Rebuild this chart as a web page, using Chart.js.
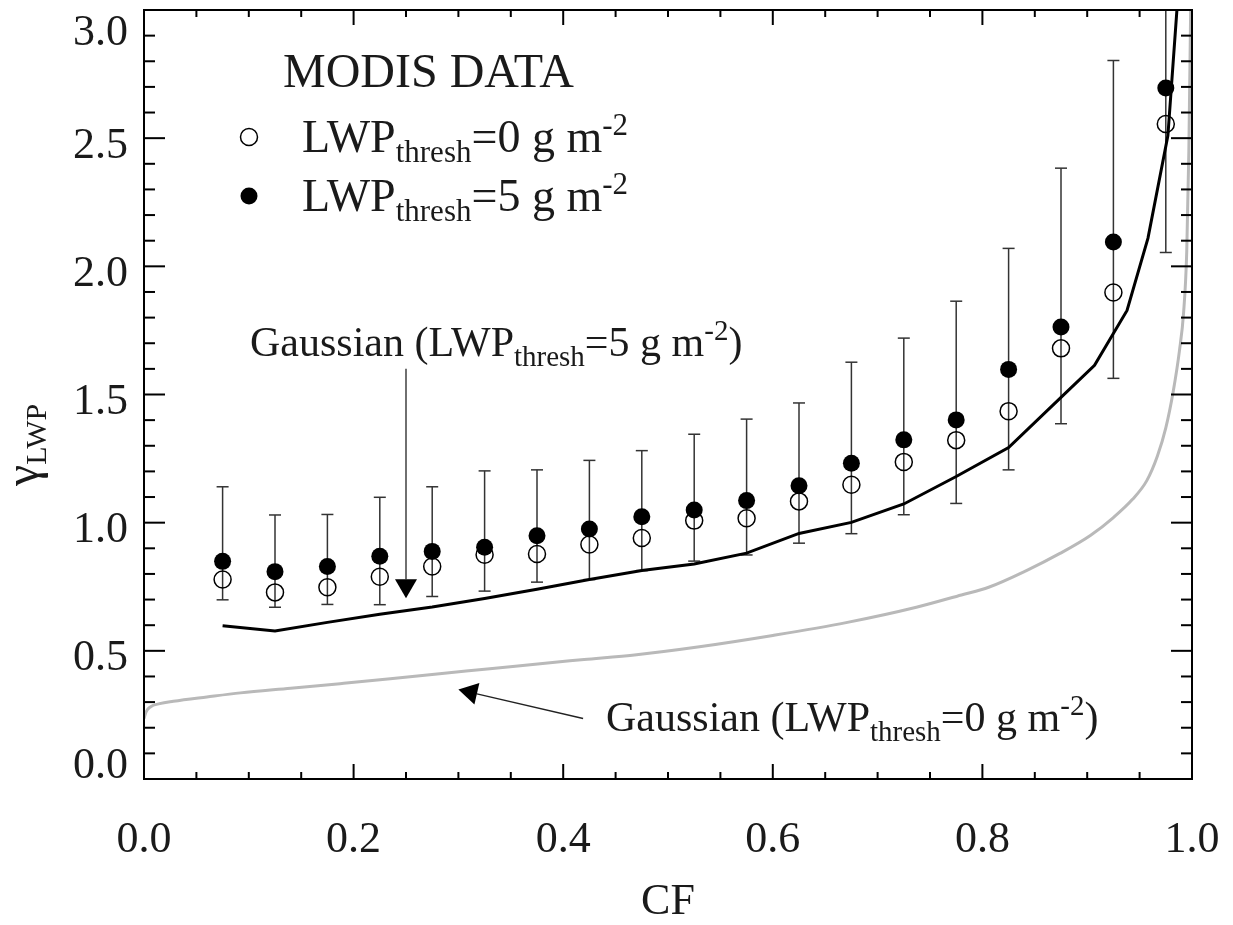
<!DOCTYPE html>
<html>
<head>
<meta charset="utf-8">
<script src="https://cdn.jsdelivr.net/npm/chart.js@4"></script>
<style>
html, body { margin: 0; padding: 0; background: #fff; }
</style>
</head>
<body>
<canvas id="myChart" width="1233" height="925"></canvas>
<script>
// MODIS bins (cloud fraction bin centres)
var cf = [0.075, 0.125, 0.175, 0.225, 0.275, 0.325, 0.375, 0.425, 0.475, 0.525,
          0.575, 0.625, 0.675, 0.725, 0.775, 0.825, 0.875, 0.925, 0.975];
var gammaThresh5 = [0.849, 0.809, 0.829, 0.869, 0.888, 0.904, 0.949, 0.975, 1.023, 1.049,
                    1.086, 1.144, 1.232, 1.323, 1.401, 1.598, 1.763, 2.095, 2.696];
var gammaThresh0 = [0.778, 0.728, 0.748, 0.789, 0.829, 0.875, 0.878, 0.915, 0.940, 1.008,
                    1.017, 1.083, 1.148, 1.237, 1.322, 1.435, 1.680, 1.898, 2.555];
var errTop = [1.140, 1.030, 1.032, 1.099, 1.140, 1.202, 1.206, 1.243, 1.281, 1.345,
              1.404, 1.467, 1.626, 1.720, 1.864, 2.070, 2.383, 2.803, 3.200];
var errBottom = [0.699, 0.670, 0.681, 0.680, 0.712, 0.733, 0.768, 0.778, 0.813, 0.850,
                 0.874, 0.920, 0.957, 1.031, 1.075, 1.206, 1.386, 1.563, 2.054];

// Gaussian model curves
var gauss5CF = [0.075, 0.125, 0.175, 0.225, 0.275, 0.325, 0.375, 0.425, 0.475, 0.525, 0.575,
                0.625, 0.675, 0.725, 0.775, 0.825, 0.875, 0.907, 0.938, 0.958, 0.977, 0.990];
var gauss5Gamma = [0.598, 0.577, 0.611, 0.643, 0.671, 0.704, 0.740, 0.778, 0.813, 0.839, 0.881,
                   0.958, 1.001, 1.073, 1.180, 1.293, 1.489, 1.614, 1.828, 2.110, 2.510, 3.250];
var gauss0CF = [0.0, 0.002, 0.006, 0.015, 0.028, 0.06, 0.092, 0.14, 0.187, 0.235, 0.282, 0.33,
                0.378, 0.42, 0.47, 0.53, 0.6, 0.67, 0.737, 0.78, 0.806, 0.842, 0.874, 0.903,
                0.925, 0.943, 0.957, 0.967, 0.975, 0.982, 0.988, 0.992, 0.995, 0.997, 0.999];
var gauss0Gamma = [0.236, 0.262, 0.281, 0.294, 0.303, 0.320, 0.336, 0.354, 0.372, 0.391, 0.411, 0.430,
                   0.450, 0.466, 0.485, 0.516, 0.560, 0.610, 0.670, 0.718, 0.748, 0.813, 0.880, 0.950,
                   1.020, 1.090, 1.165, 1.260, 1.370, 1.510, 1.670, 1.820, 2.060, 2.450, 3.100];

var xTicks = [0, 0.2, 0.4, 0.6, 0.8, 1.0];
var xTickLabels = ['0.0', '0.2', '0.4', '0.6', '0.8', '1.0'];
var yTicks = [0, 0.5, 1.0, 1.5, 2.0, 2.5, 3.0];
var yTickLabels = ['0.0', '0.5', '1.0', '1.5', '2.0', '2.5', '3.0'];
var xMinor = 0.05, yMinor = 0.1;

// arrows: [fromX, fromY, toX, toY] in data units
var arrows = [[0.25, 1.60, 0.25, 0.705], [0.419, 0.236, 0.300, 0.349]];

var SERIF = '"Liberation Serif", "Times New Roman", serif';
var INK = '#1a1a1a';

function pairs(xs, ys) {
    return xs.map(function (x, i) { return {x: x, y: ys[i]}; });
}

// draw text made of pieces [text, size, dy]
function rich(c, parts, x, y, align) {
    var w = 0;
    parts.forEach(function (p) { c.font = p[1] + 'px ' + SERIF; w += c.measureText(p[0]).width; });
    var cx = align === 'center' ? x - w / 2 : x;
    c.textAlign = 'left';
    c.textBaseline = 'alphabetic';
    parts.forEach(function (p) {
        c.font = p[1] + 'px ' + SERIF;
        c.fillText(p[0], cx, y + (p[2] || 0));
        cx += c.measureText(p[0]).width;
    });
}

function line(c, x1, y1, x2, y2) {
    c.beginPath(); c.moveTo(x1, y1); c.lineTo(x2, y2); c.stroke();
}

function arrow(c, x1, y1, x2, y2) {
    var a = Math.atan2(y2 - y1, x2 - x1), L = 19, H = 11;
    var bx = x2 - L * Math.cos(a), by = y2 - L * Math.sin(a);
    line(c, x1, y1, bx, by);
    c.beginPath();
    c.moveTo(x2, y2);
    c.lineTo(bx + H * Math.sin(a), by - H * Math.cos(a));
    c.lineTo(bx - H * Math.sin(a), by + H * Math.cos(a));
    c.closePath();
    c.fill();
}

var idlFrame = {
    id: 'idlFrame',
    beforeDatasetsDraw: function (chart) {
        var c = chart.ctx, a = chart.chartArea, xs = chart.scales.x, ys = chart.scales.y;
        c.save();
        c.beginPath(); c.rect(a.left, a.top, a.right - a.left, a.bottom - a.top); c.clip();
        c.strokeStyle = '#333';
        c.lineWidth = 1.5;
        cf.forEach(function (v, i) {
            var px = xs.getPixelForValue(v);
            var pt = ys.getPixelForValue(errTop[i]), pb = ys.getPixelForValue(errBottom[i]);
            line(c, px, pt, px, pb);
            line(c, px - 6, pt, px + 6, pt);
            line(c, px - 6, pb, px + 6, pb);
        });
        c.restore();
    },
    afterDatasetsDraw: function (chart) {
        var c = chart.ctx, a = chart.chartArea, xs = chart.scales.x, ys = chart.scales.y;
        c.save();
        c.strokeStyle = '#000';
        c.lineWidth = 2;
        c.strokeRect(a.left, a.top, a.right - a.left, a.bottom - a.top);

        // tick marks on all four sides, pointing inward
        var k, v, p, major;
        for (k = 0; k <= Math.round(1 / xMinor); k++) {
            v = k * xMinor;
            major = xTicks.some(function (t) { return Math.abs(t - v) < 1e-6; });
            p = xs.getPixelForValue(v);
            var lx = major ? 15 : 7;
            line(c, p, a.bottom, p, a.bottom - lx);
            line(c, p, a.top, p, a.top + lx);
        }
        for (k = 0; k <= Math.round(3 / yMinor); k++) {
            v = k * yMinor;
            major = yTicks.some(function (t) { return Math.abs(t - v) < 1e-6; });
            p = ys.getPixelForValue(v);
            var ly = major ? 21 : 11;
            line(c, a.left, p, a.left + ly, p);
            line(c, a.right, p, a.right - ly, p);
        }

        c.fillStyle = INK;
        // tick labels
        xTicks.forEach(function (t, i) {
            rich(c, [[xTickLabels[i], 44]], xs.getPixelForValue(t), a.bottom + 73, 'center');
        });
        yTicks.forEach(function (t, i) {
            var by = Math.min(Math.max(ys.getPixelForValue(t) + 19.5, a.top + 35), a.bottom - 1);
            c.font = '44px ' + SERIF;
            c.textAlign = 'right';
            c.fillText(yTickLabels[i], a.left - 16, by);
        });

        // axis titles
        rich(c, [['CF', 44]], (a.left + a.right) / 2, 914, 'center');
        c.save();
        c.translate(38, 486);
        c.rotate(-Math.PI / 2);
        rich(c, [['\u03b3', 48], ['LWP', 30, 8]], 0, 0, 'left');
        c.restore();

        // legend
        rich(c, [['MODIS DATA', 48]], 283, 87, 'left');
        c.strokeStyle = '#000';
        c.lineWidth = 1.5;
        c.beginPath(); c.arc(249, 137, 8.5, 0, 2 * Math.PI); c.stroke();
        c.fillStyle = '#000';
        c.beginPath(); c.arc(249, 196, 8.5, 0, 2 * Math.PI); c.fill();
        c.fillStyle = INK;
        rich(c, [['LWP', 46], ['thresh', 31, 10], ['=0 g m', 46], ['-2', 31, -17]], 302, 152, 'left');
        rich(c, [['LWP', 46], ['thresh', 31, 10], ['=5 g m', 46], ['-2', 31, -17]], 302, 211, 'left');

        // annotations
        rich(c, [['Gaussian (LWP', 42], ['thresh', 29, 10], ['=5 g m', 42], ['-2', 29, -16], [')', 42]], 250, 356, 'left');
        rich(c, [['Gaussian (LWP', 42], ['thresh', 29, 10], ['=0 g m', 42], ['-2', 29, -16], [')', 42]], 606, 731, 'left');

        c.strokeStyle = '#222';
        c.fillStyle = '#000';
        c.lineWidth = 1.3;
        arrows.forEach(function (ar) {
            arrow(c, xs.getPixelForValue(ar[0]), ys.getPixelForValue(ar[1]),
                     xs.getPixelForValue(ar[2]), ys.getPixelForValue(ar[3]));
        });
        c.restore();
    }
};

var ctx = document.getElementById('myChart').getContext('2d');
var myChart = new Chart(ctx, {
    type: 'scatter',
    data: {
        datasets: [{
            label: 'LWP thresh = 5',
            data: pairs(cf, gammaThresh5),
            pointRadius: 8.5,
            backgroundColor: '#000',
            borderColor: '#000',
            borderWidth: 0
        }, {
            label: 'LWP thresh = 0',
            data: pairs(cf, gammaThresh0),
            pointRadius: 8.5,
            backgroundColor: 'rgba(0,0,0,0)',
            borderColor: '#000',
            borderWidth: 1.5
        }, {
            type: 'line',
            label: 'Gaussian 5',
            data: pairs(gauss5CF, gauss5Gamma),
            borderColor: '#000',
            borderWidth: 3,
            pointRadius: 0,
            tension: 0,
            fill: false,
            clip: 0
        }, {
            type: 'line',
            label: 'Gaussian 0',
            data: pairs(gauss0CF, gauss0Gamma),
            borderColor: '#b9b9b9',
            borderWidth: 3,
            pointRadius: 0,
            cubicInterpolationMode: 'monotone',
            fill: false,
            clip: 0
        }]
    },
    options: {
        responsive: false,
        animation: false,
        devicePixelRatio: 1,
        events: [],
        layout: { padding: { top: 8, right: 41, left: 0, bottom: 0 } },
        plugins: {
            legend: { display: false },
            tooltip: { enabled: false }
        },
        scales: {
            x: {
                type: 'linear', min: 0, max: 1,
                grid: { display: false }, border: { display: false },
                ticks: { display: false },
                afterFit: function (s) { s.height = 146; }
            },
            y: {
                type: 'linear', min: 0, max: 3,
                grid: { display: false }, border: { display: false },
                ticks: { display: false },
                afterFit: function (s) { s.width = 144; }
            }
        }
    },
    plugins: [idlFrame]
});
</script>
</body>
</html>
